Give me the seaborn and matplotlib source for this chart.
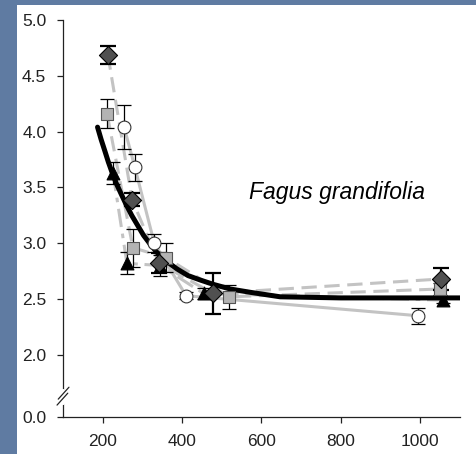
import matplotlib
matplotlib.use("Agg")
import matplotlib.pyplot as plt
import seaborn as sns
from matplotlib.patches import Rectangle

# open diamonds (dark gray)
diamond_x = [213, 274, 342, 478, 1053]
diamond_y = [4.69, 3.39, 2.82, 2.55, 2.68]
diamond_err = [0.08, 0.06, 0.09, 0.18, 0.10]

# light gray squares
square_x = [211, 276, 360, 519, 1050]
square_y = [4.16, 2.96, 2.87, 2.52, 2.59]
square_err = [0.13, 0.17, 0.13, 0.11, 0.05]

# white circles
circle_x = [254, 281, 330, 410, 995]
circle_y = [4.04, 3.68, 3.00, 2.53, 2.35]
circle_err = [0.20, 0.12, 0.08, 0.03, 0.07]

# black triangles
tri_x = [226, 261, 345, 454, 1056]
tri_y = [3.63, 2.82, 2.80, 2.55, 2.49]
tri_err = [0.10, 0.10, 0.09, 0.05, 0.03]

# fitted curve
fit_x = [187, 196, 206, 214, 223, 235, 248, 260, 273, 288, 303, 320, 336, 360, 387,
         415, 446, 480, 521, 572, 647, 800, 1100]
fit_y = [4.04, 3.93, 3.82, 3.73, 3.64, 3.53, 3.43, 3.34, 3.25, 3.16, 3.07, 2.99, 2.92,
         2.84, 2.77, 2.71, 2.67, 2.63, 2.59, 2.56, 2.52, 2.51, 2.51]

xticks = [200, 400, 600, 800, 1000]
# broken axis: the bottom tick stands for 0.0
ytick_vals = [1.443, 2.0, 2.5, 3.0, 3.5, 4.0, 4.5, 5.0]
ytick_labels = ["0.0", "2.0", "2.5", "3.0", "3.5", "4.0", "4.5", "5.0"]

sns.set_style("ticks")
plt.rcParams["font.family"] = ["Liberation Sans", "DejaVu Sans"]

fig = plt.figure(figsize=(4.77, 4.54), dpi=100, facecolor="#5f7ba2")
fig.patches.append(Rectangle((17 / 477, 0), 1, 449 / 454, transform=fig.transFigure,
                             facecolor="white", edgecolor="none", zorder=-5))
ax = fig.add_axes([63 / 477, 37 / 454, 397 / 477, 397 / 454])
ax.set_facecolor("white")

grey = "#c3c3c3"
sns.lineplot(x=circle_x, y=circle_y, ax=ax, color=grey, lw=2.2, linestyle="-", zorder=1)
sns.lineplot(x=tri_x, y=tri_y, ax=ax, color=grey, lw=2.2, linestyle=(0, (6, 2.2, 1.5, 2.2)), zorder=1)
sns.lineplot(x=square_x, y=square_y, ax=ax, color=grey, lw=2.2, linestyle=(0, (5, 2.5)), zorder=1)
sns.lineplot(x=diamond_x, y=diamond_y, ax=ax, color=grey, lw=2.2, linestyle=(0, (5, 2.5)), zorder=1)

sns.lineplot(x=fit_x, y=fit_y, ax=ax, color="black", lw=3.6, zorder=3)

ax.errorbar(tri_x, tri_y, yerr=tri_err, fmt="none", ecolor="black", elinewidth=0.9,
            capsize=5, capthick=0.9, zorder=2)
ax.errorbar(circle_x, circle_y, yerr=circle_err, fmt="none", ecolor="black", elinewidth=0.9,
            capsize=5, capthick=0.9, zorder=2)
ax.errorbar(square_x, square_y, yerr=square_err, fmt="none", ecolor="black", elinewidth=0.9,
            capsize=5, capthick=0.9, zorder=2)
ax.errorbar(diamond_x, diamond_y, yerr=diamond_err, fmt="none", ecolor="black", elinewidth=1.6,
            capsize=5.5, capthick=1.6, zorder=2)

sns.scatterplot(x=tri_x, y=tri_y, ax=ax, marker="^", s=85, color="black",
                edgecolor="black", linewidth=0.8, zorder=4)
sns.scatterplot(x=circle_x, y=circle_y, ax=ax, marker="o", s=85, color="white",
                edgecolor="#333333", linewidth=0.8, zorder=4)
sns.scatterplot(x=square_x, y=square_y, ax=ax, marker="s", s=80, color="#b3b3b3",
                edgecolor="#555555", linewidth=0.8, zorder=5)
sns.scatterplot(x=diamond_x, y=diamond_y, ax=ax, marker="D", s=85, color="#505050",
                edgecolor="black", linewidth=0.8, zorder=6)

ax.text(791, 3.40, "Fagus grandifolia", fontsize=16.5, style="italic",
        ha="center", va="baseline", color="black")

ax.set_xlim(100, 1100)
ax.set_ylim(1.443, 5.0)
ax.set_xticks(xticks)
ax.set_yticks(ytick_vals)
ax.set_yticklabels(ytick_labels)
ax.tick_params(labelsize=12.5, length=4, width=0.9, colors="#222222", pad=8)
sns.despine(ax=ax)
for s in ["left", "bottom"]:
    ax.spines[s].set_linewidth(0.9)
    ax.spines[s].set_color("#222222")

# axis break marks
ax.plot([0.0, 0.0], [0.035, 0.065], transform=ax.transAxes, color="white", lw=3,
        clip_on=False, zorder=7)
ax.plot([-0.015, 0.012], [0.03, 0.06], transform=ax.transAxes, color="#222222", lw=0.9,
        clip_on=False, zorder=8)
ax.plot([-0.012, 0.015], [0.045, 0.075], transform=ax.transAxes, color="#222222", lw=0.9,
        clip_on=False, zorder=8)

fig.savefig("out.png", dpi=100, facecolor=fig.get_facecolor())
